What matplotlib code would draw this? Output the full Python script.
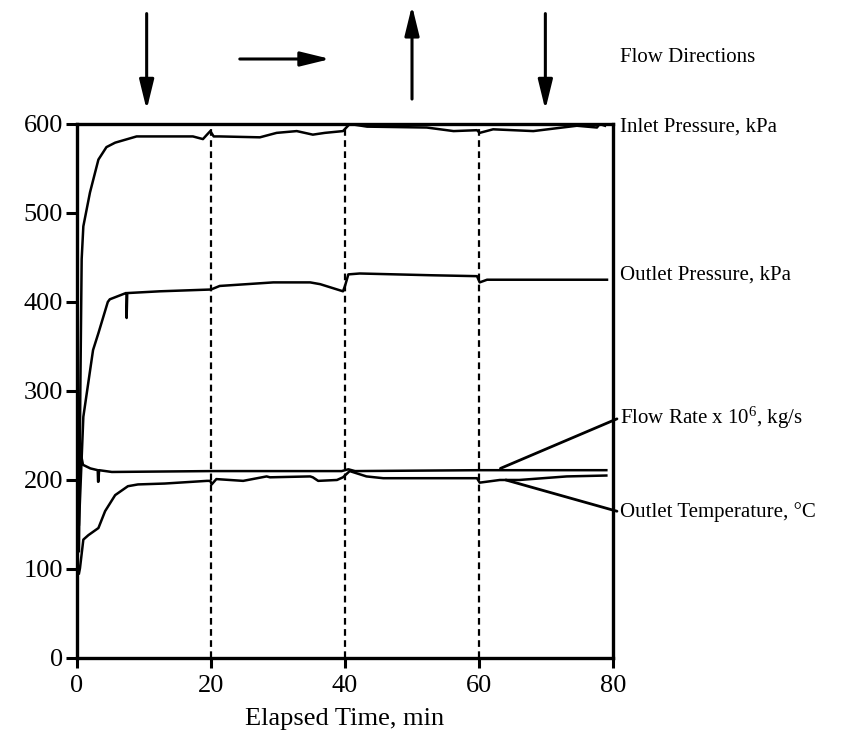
import matplotlib
matplotlib.use("Agg")
import matplotlib.pyplot as plt

plt.rcParams['font.family'] = ['Liberation Serif', 'DejaVu Serif']
plt.rcParams['mathtext.fontset'] = 'custom'
plt.rcParams['mathtext.rm'] = 'Liberation Serif'
plt.rcParams['mathtext.it'] = 'Liberation Serif:italic'

# ---- data ----
inlet_t = [0.3, 0.5, 0.7, 0.95, 1.94, 3.2, 4.4, 5.7, 8.9, 17.3, 18.8, 19.4, 19.9, 20.4, 21.3,
           27.3, 29.8, 32.8, 35.2, 37.0, 39.7, 40.7, 43.3, 52.2, 56.2, 59.7, 60.1, 62.1,
           68.1, 74.6, 77.6, 78.0, 78.8]
inlet_p = [120, 300, 448, 485, 523, 560, 574, 579, 586, 586, 583, 588, 592, 586, 586,
           585, 590, 592, 588, 590, 592, 600, 597, 596, 592, 593, 590, 594,
           592, 598, 596, 600, 598]

outlet_t = [0.3, 0.95, 2.4, 3.2, 4.6, 4.9, 7.3, 7.4, 7.41, 7.5, 12.4, 20.0, 21.3, 29.3, 34.8,
            36.3, 39.7, 40.0, 40.5, 42.2, 53.0, 59.7, 60.1, 61.2, 79.1]
outlet_p = [150, 271, 346, 365, 400, 403, 410, 410, 382, 410, 412, 414, 418, 422, 422,
            420, 412, 418, 431, 432, 430, 429, 422, 425, 425]

flow_t = [0.3, 0.9, 2.0, 3.1, 3.15, 3.2, 3.3, 5.2, 20.0, 39.5, 40.5, 41.5, 60.0, 79.0]
flow_v = [240, 217, 213, 211, 198, 198, 211, 209, 210, 210, 212, 210, 211, 211]

temp_t = [0.3, 0.45, 0.95, 1.7, 3.2, 4.2, 5.7, 7.6, 9.1, 13.1, 19.4, 19.9, 20.1, 20.8, 24.8,
          28.3, 28.8, 34.8, 35.2, 36.0, 38.8, 39.7, 40.7, 43.2, 45.7, 53.1, 59.7, 60.1,
          63.1, 66.0, 73.1, 79.0]
temp_c = [95, 101, 133, 138, 146, 165, 183, 193, 195, 196, 199, 199, 195, 201, 199,
          204, 203, 204, 203, 199, 200, 203, 210, 204, 202, 202, 202, 197,
          200, 200, 204, 205]

switch_times = [20, 40, 60]
x_ticks = [0, 20, 40, 60, 80]
y_ticks = [0, 100, 200, 300, 400, 500, 600]

series_labels = ["Inlet Pressure, kPa", "Outlet Pressure, kPa",
                 "Flow Rate x 10$^6$, kg/s", "Outlet Temperature, \u00b0C"]

# ---- figure ----
fig = plt.figure(figsize=(8.61, 7.45), dpi=100)
ax = fig.add_axes([0.0894, 0.1168, 0.6226, 0.7168])

for t in switch_times:
    ax.plot([t, t], [0, 600], color='black', lw=1.6, ls=(0, (3, 2)), zorder=1)

lw = 1.8
ax.plot(inlet_t, inlet_p, color='black', lw=lw, zorder=3)
ax.plot(outlet_t, outlet_p, color='black', lw=lw, zorder=3)
ax.plot(flow_t, flow_v, color='black', lw=lw, zorder=3)
ax.plot(temp_t, temp_c, color='black', lw=lw, zorder=3)

ax.set_xlim(0, 80)
ax.set_ylim(0, 600)
ax.set_xticks(x_ticks)
ax.set_yticks(y_ticks)
ax.tick_params(direction='out', length=7, width=2.2, labelsize=19, pad=5)
ax.tick_params(axis='y', length=8, pad=2)
for s in ax.spines.values():
    s.set_linewidth(2.4)
ax.set_xlabel("Elapsed Time, min", fontsize=19, labelpad=8)

# right-side labels
lab_fs = 15
ax.text(81.0, 597, series_labels[0], fontsize=lab_fs, ha='left', va='center', clip_on=False)
ax.text(81.0, 430, series_labels[1], fontsize=lab_fs, ha='left', va='center', clip_on=False)
ax.annotate(series_labels[2], xy=(63.2, 213), xytext=(81.0, 270), fontsize=lab_fs,
            ha='left', va='center', annotation_clip=False,
            arrowprops=dict(arrowstyle='-', lw=2.0, color='black', relpos=(0, 0.5),
                            shrinkA=0, shrinkB=0))
ax.annotate(series_labels[3], xy=(64.0, 200), xytext=(81.0, 164), fontsize=lab_fs,
            ha='left', va='center', annotation_clip=False,
            arrowprops=dict(arrowstyle='-', lw=2.0, color='black', relpos=(0, 0.5),
                            shrinkA=0, shrinkB=0))
ax.text(81.0, 675, "Flow Directions", fontsize=lab_fs, ha='left', va='center', clip_on=False)

# flow direction arrows
arr = dict(arrowstyle='-|>,head_length=0.9,head_width=0.22', lw=2.2, color='black',
           mutation_scale=20, shrinkA=0, shrinkB=0)
ax.annotate('', xy=(10.4, 616), xytext=(10.4, 724), arrowprops=arr, annotation_clip=False)
ax.annotate('', xy=(37.8, 673), xytext=(24.3, 673), arrowprops=arr, annotation_clip=False)
ax.annotate('', xy=(50.0, 733), xytext=(50.0, 628), arrowprops=arr, annotation_clip=False)
ax.annotate('', xy=(69.9, 616), xytext=(69.9, 724), arrowprops=arr, annotation_clip=False)

fig.savefig("out.png", dpi=100)
